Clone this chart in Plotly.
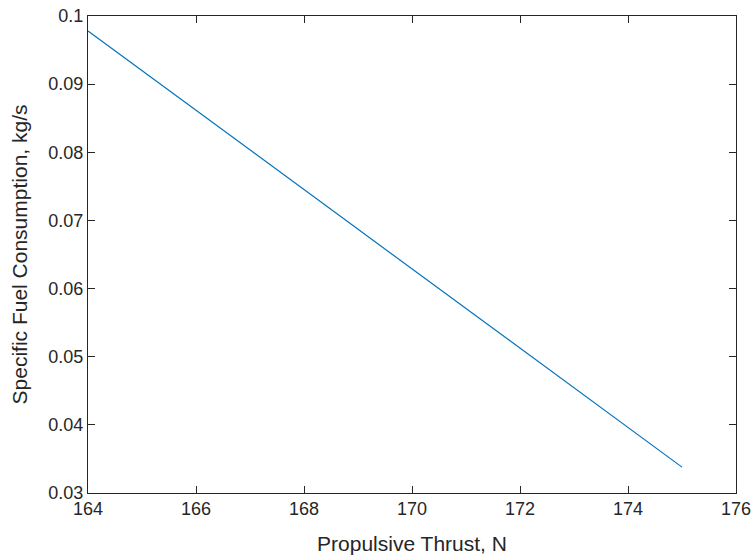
import plotly.graph_objects as go

thrust = [164, 175]
sfc = [0.0978, 0.0338]

x_ticks = [164, 166, 168, 170, 172, 174, 176]
y_ticks = [0.03, 0.04, 0.05, 0.06, 0.07, 0.08, 0.09, 0.1]
y_tick_text = ["0.03", "0.04", "0.05", "0.06", "0.07", "0.08", "0.09", "0.1"]

ax_col = "#262626"
font_family = "Liberation Sans, Arial, sans-serif"

fig = go.Figure()
fig.add_trace(go.Scatter(x=thrust, y=sfc, mode="lines",
                         line=dict(color="#0072BD", width=1.2)))

common = dict(showline=True, linecolor=ax_col, linewidth=1, mirror="allticks",
              ticks="inside", ticklen=7, tickwidth=1, tickcolor=ax_col,
              showgrid=False, zeroline=False, automargin=False,
              tickfont=dict(family=font_family, size=18, color=ax_col))

fig.update_xaxes(range=[164, 176], tickvals=x_ticks, ticklabelstandoff=-1,
                 title=dict(text="Propulsive Thrust, N", standoff=18,
                            font=dict(family=font_family, size=21, color=ax_col)),
                 **common)
fig.update_yaxes(range=[0.03, 0.1], tickvals=y_ticks, ticktext=y_tick_text,
                 title=dict(text="Specific Fuel Consumption, kg/s",
                            font=dict(family=font_family, size=21, color=ax_col)),
                 **common)

fig.update_layout(width=753, height=560, showlegend=False,
                  margin=dict(l=88, r=17, t=16, b=67),
                  plot_bgcolor="white", paper_bgcolor="white",
                  font=dict(family=font_family, color=ax_col))

fig.write_html("out.html", config={"displayModeBar": False},
               post_script="document.body.style.margin='0';document.body.style.overflow='hidden';")
